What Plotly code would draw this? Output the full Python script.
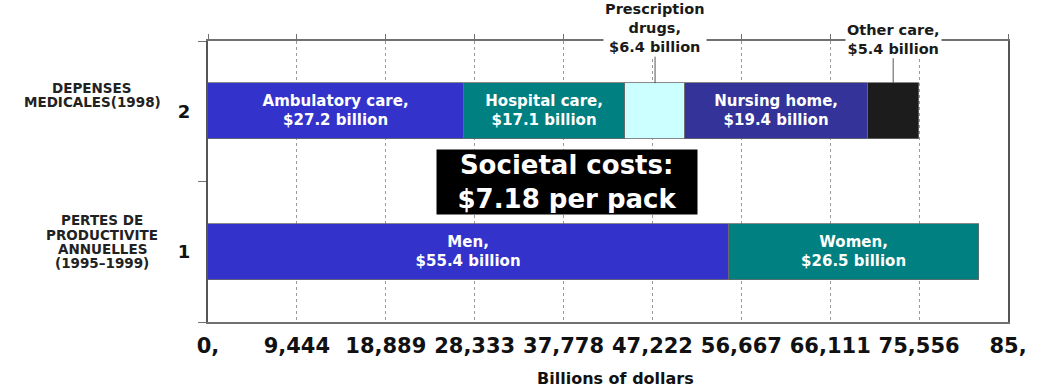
import plotly.graph_objects as go

# ---------------- data ----------------
categories = ["1", "2"]
expense_category = "2"
productivity_category = "1"

medical_items = ["Ambulatory care", "Hospital care", "Prescription drugs", "Nursing home", "Other care"]
medical_values = [27.2, 17.1, 6.4, 19.4, 5.4]

productivity_items = ["Men", "Women"]
productivity_values = [55.4, 26.5]

x_max = 85
x_tick_labels = ["0,", "9,444", "18,889", "28,333", "37,778", "47,222",
                 "56,667", "66,111", "75,556", "85,"]

expense_label_lines = ["DEPENSES", "MEDICALES(1998)"]
productivity_label_lines = ["PERTES DE", "PRODUCTIVITE", "ANNUELLES", "(1995–1999)"]

x_title = "Billions of dollars"
callout_lines = ["Societal costs:", "$7.18 per pack"]

# ---------------- styles ----------------
FONT = "DejaVu Sans"
medical_colors = ["#3333CC", "#008080", "#CCFFFF", "#333399", "#1C1C1C"]
productivity_colors = ["#3333CC", "#008080"]
inside_items = ["Ambulatory care", "Hospital care", "Nursing home", "Men", "Women"]
BAR_WIDTH = 0.4

fig = go.Figure()


def seg_text(name, v):
    return f"{name},<br>${v} billion" if name in inside_items else ""


for name, v, c in zip(medical_items, medical_values, medical_colors):
    fig.add_trace(go.Bar(
        y=[expense_category], x=[v], orientation="h", name=name,
        marker=dict(color=c, line=dict(color="#6a6a6a", width=0.8)),
        width=BAR_WIDTH, text=[seg_text(name, v)], textposition="inside",
        insidetextanchor="middle",
        textfont=dict(family=FONT, size=15, color="white", weight="bold"),
        showlegend=False,
    ))

for name, v, c in zip(productivity_items, productivity_values, productivity_colors):
    fig.add_trace(go.Bar(
        y=[productivity_category], x=[v], orientation="h", name=name,
        marker=dict(color=c, line=dict(color="#6a6a6a", width=0.8)),
        width=BAR_WIDTH, text=[seg_text(name, v)], textposition="inside",
        insidetextanchor="middle",
        textfont=dict(family=FONT, size=15, color="white", weight="bold"),
        showlegend=False,
    ))

# empty trace so that the top (mirror) axis is drawn
fig.add_trace(go.Scatter(x=[], y=[], xaxis="x2", yaxis="y", showlegend=False))

tick_vals = [i * x_max / (len(x_tick_labels) - 1) for i in range(len(x_tick_labels))]

annotations = []

# call-outs for thin segments (Prescription drugs, Other care)
cum = 0.0
exp_index = categories.index(expense_category)
for name, v in zip(medical_items, medical_values):
    mid = cum + v / 2
    cum += v
    if name in inside_items:
        continue
    if name == "Prescription drugs":
        txt = "Prescription<br>drugs,<br>$%s billion" % v
        ay = -55
    else:
        txt = "Other care,<br>$%s billion" % v
        ay = -44
    annotations.append(dict(
        x=mid, y=exp_index + BAR_WIDTH / 2, xref="x", yref="y",
        text=txt, showarrow=True, arrowhead=0, arrowwidth=1, arrowcolor="#555",
        ax=0, ay=ay, bgcolor="white", borderpad=1,
        font=dict(family=FONT, size=14.5, color="#1a1a1a", weight="bold"),
    ))

# societal cost box
annotations.append(dict(
    x=38.1, y=0.5, xref="x", yref="y", showarrow=False,
    text="<br>".join(callout_lines), bgcolor="black", width=258, height=62,
    font=dict(family=FONT, size=26, color="white", weight="bold"),
))

# category labels on the left
def add_block(lines, cat, center_px, offset):
    idx = categories.index(cat)
    n = len(lines)
    for i, line in enumerate(lines):
        annotations.append(dict(
            x=(center_px - 208) / 800, xref="paper", y=idx, yref="y",
            text=line, showarrow=False, xanchor="center", yanchor="middle",
            yshift=offset - (i - (n - 1) / 2) * 14.3,
            font=dict(family=FONT, size=13.5, color="#222", weight="bold"),
        ))


add_block(expense_label_lines, expense_category, 92, 16.5)
add_block(productivity_label_lines, productivity_category, 102, 10)

# x title
annotations.append(dict(
    x=0.509, xref="paper", y=-0.2, yref="paper", showarrow=False,
    text=x_title, xanchor="center", yanchor="middle",
    font=dict(family=FONT, size=16, color="#111", weight="bold"),
))

fig.update_layout(
    width=1050, height=389,
    margin=dict(l=208, r=42, t=41, b=67),
    paper_bgcolor="white", plot_bgcolor="white",
    barmode="stack", bargap=0,
    xaxis=dict(
        range=[0, x_max], tickvals=tick_vals, ticktext=x_tick_labels,
        tickfont=dict(family=FONT, size=21, color="#111", weight="bold"),
        showgrid=True, gridcolor="#9a9a9a", griddash="dot", gridwidth=1,
        showline=True, linecolor="#707070", linewidth=1.5,
        ticks="", zeroline=False, ticklabelstandoff=4,
    ),
    xaxis2=dict(
        overlaying="x", side="top", anchor="y", range=[0, x_max],
        tickvals=tick_vals, ticks="outside", ticklen=5, tickcolor="#707070",
        showticklabels=False, showline=True, linecolor="#707070", linewidth=1.5,
        showgrid=False, zeroline=False,
    ),
    yaxis=dict(
        type="category", categoryorder="array", categoryarray=categories,
        range=[-0.5, 1.5], tickson="boundaries", ticks="outside", ticklen=8,
        tickcolor="#707070", showline=True, linecolor="#555", linewidth=2,
        mirror=True, showgrid=False, zeroline=False,
        tickfont=dict(family=FONT, size=18, color="#111", weight="bold"),
        ticklabelstandoff=12,
    ),
    annotations=annotations,
)

fig.write_html("out.html")
